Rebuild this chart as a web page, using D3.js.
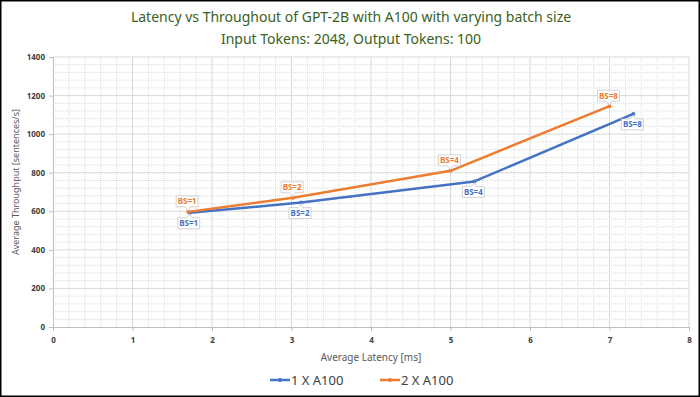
<!DOCTYPE html>
<html>
<head>
<meta charset="utf-8">
<script src="https://cdn.jsdelivr.net/npm/d3@7"></script>
<style>
  body { margin: 0; background: #fff; }
  svg { display: block; font-family: "Noto Sans", "DejaVu Sans", sans-serif; }
</style>
</head>
<body>
<div id="chart"></div>
<script>
// chart data
var titleLines = ["Latency vs Throughout of GPT-2B with A100 with varying batch size",
                  "Input Tokens: 2048, Output Tokens: 100"];
var seriesNames = ["1 X A100", "2 X A100"];
var batchLabels = ["BS=1", "BS=2", "BS=4", "BS=8"];
var latency1 = [1.72, 3.12, 5.3, 7.3];
var throughput1 = [592, 645, 755, 1105];
var latency2 = [1.7, 3.02, 5.0, 7.0];
var throughput2 = [597, 670, 810, 1145];
var xTicks = [0, 1, 2, 3, 4, 5, 6, 7, 8];
var yTicks = [0, 200, 400, 600, 800, 1000, 1200, 1400];

var width = 700, height = 397;
var colors = ["#4472c4", "#ed7d31"];

var svg = d3.select("#chart").append("svg")
  .attr("width", width)
  .attr("height", height);

// frame
svg.append("rect")
  .attr("x", 0.75).attr("y", 0.75)
  .attr("width", width - 1.5).attr("height", height - 1.5)
  .attr("fill", "#fff")
  .attr("stroke", "#000")
  .attr("stroke-width", 1.5);

var x = d3.scaleLinear().domain([0, 8]).range([53, 689]);
var y = d3.scaleLinear().domain([0, 1400]).range([327, 57]);

// minor grid (dotted)
var grid = svg.append("g");
grid.selectAll("line.minor-x")
  .data(d3.range(0, 8.001, 0.2).filter(function(d) { return Math.abs(d - Math.round(d)) > 1e-6; }))
  .enter().append("line")
    .attr("class", "minor-x")
    .attr("x1", function(d) { return x(d); })
    .attr("x2", function(d) { return x(d); })
    .attr("y1", y(0)).attr("y2", y(1400))
    .attr("stroke", "#dcdcdc")
    .attr("stroke-dasharray", "1,1");
grid.selectAll("line.minor-y")
  .data(d3.range(0, 1400.1, 40).filter(function(d) { return d % 200 !== 0; }))
  .enter().append("line")
    .attr("class", "minor-y")
    .attr("x1", x(0)).attr("x2", x(8))
    .attr("y1", function(d) { return y(d); })
    .attr("y2", function(d) { return y(d); })
    .attr("stroke", "#dcdcdc")
    .attr("stroke-dasharray", "1,1");

// major grid
grid.selectAll("line.major-x")
  .data(xTicks.slice(1))
  .enter().append("line")
    .attr("class", "major-x")
    .attr("x1", function(d) { return x(d); })
    .attr("x2", function(d) { return x(d); })
    .attr("y1", y(0)).attr("y2", y(1400))
    .attr("stroke", "#d9d9d9");
grid.selectAll("line.major-y")
  .data(yTicks.slice(1))
  .enter().append("line")
    .attr("class", "major-y")
    .attr("x1", x(0)).attr("x2", x(8))
    .attr("y1", function(d) { return y(d); })
    .attr("y2", function(d) { return y(d); })
    .attr("stroke", "#d9d9d9");

// axes
var xAxis = svg.append("g")
  .attr("transform", "translate(0," + y(0) + ")")
  .call(d3.axisBottom(x).tickValues(xTicks).tickSize(4).tickPadding(6));
var yAxis = svg.append("g")
  .attr("transform", "translate(" + x(0) + ",0)")
  .call(d3.axisLeft(y).tickValues(yTicks).tickFormat(d3.format("d")).tickSize(4).tickPadding(4));
[xAxis, yAxis].forEach(function(ax) {
  ax.select(".domain").attr("stroke", "#bfbfbf");
  ax.selectAll(".tick line").attr("stroke", "#bfbfbf");
  ax.selectAll(".tick text")
    .attr("fill", "#404040")
    .style("font-size", "8px")
    .style("font-weight", "bold")
    .style("font-family", "'Noto Sans', sans-serif");
});

// titles
svg.selectAll("text.chart-title")
  .data(titleLines)
  .enter().append("text")
    .attr("class", "chart-title")
    .attr("x", 351)
    .attr("y", function(d, i) { return 22 + i * 22; })
    .attr("text-anchor", "middle")
    .style("fill", "#3b6121")
    .style("font-size", "14px")
    .text(function(d) { return d; });

svg.append("text")
  .attr("x", 371).attr("y", 361)
  .attr("text-anchor", "middle")
  .style("fill", "#595959")
  .style("font-size", "10px")
  .text("Average Latency [ms]");

svg.append("text")
  .attr("transform", "translate(19," + 182 + ") rotate(-90)")
  .attr("text-anchor", "middle")
  .style("fill", "#595959")
  .style("font-size", "9px")
  .text("Average Throughput [sentences/s]");

// series
var series = [
  { name: seriesNames[0], color: colors[0], above: false,
    pts: latency1.map(function(d, i) { return { x: d, y: throughput1[i], label: batchLabels[i] }; }) },
  { name: seriesNames[1], color: colors[1], above: true,
    pts: latency2.map(function(d, i) { return { x: d, y: throughput2[i], label: batchLabels[i] }; }) }
];

var line = d3.line()
  .x(function(d) { return x(d.x); })
  .y(function(d) { return y(d.y); });

series.forEach(function(s) {
  svg.append("path")
    .attr("d", line(s.pts))
    .attr("fill", "none")
    .attr("stroke", s.color)
    .attr("stroke-width", 2.5)
    .attr("stroke-linejoin", "round");
  svg.selectAll(null)
    .data(s.pts)
    .enter().append("circle")
      .attr("cx", function(d) { return x(d.x); })
      .attr("cy", function(d) { return y(d.y); })
      .attr("r", 2)
      .attr("fill", s.color);
});

// data labels (callout boxes)
series.forEach(function(s) {
  var bw = 22, bh = 11, gap = 5;
  var g = svg.selectAll(null)
    .data(s.pts)
    .enter().append("g")
      .attr("transform", function(d) {
        var px = x(d.x), py = y(d.y);
        var bx = px - bw / 2 - 1;
        var by = s.above ? py - gap - bh : py + gap;
        return "translate(" + bx + "," + by + ")";
      });
  g.append("path")
    .attr("d", function() {
      // box with small pointer towards the point
      if (s.above) {
        return "M0,0H" + bw + "V" + bh + "H" + (bw / 2 + 3) + "L" + (bw / 2 + 1) + "," + (bh + 4) +
               "L" + (bw / 2 - 2) + "," + bh + "H0Z";
      }
      return "M0,0H" + (bw / 2 - 2) + "L" + (bw / 2 + 1) + ",-4L" + (bw / 2 + 3) + ",0H" + bw +
             "V" + bh + "H0Z";
    })
    .attr("fill", "#fff")
    .attr("stroke", "#c8c8c8")
    .attr("stroke-width", 0.8);
  g.append("text")
    .attr("x", bw / 2)
    .attr("y", bh / 2 + 3)
    .attr("text-anchor", "middle")
    .style("fill", s.color)
    .style("font-size", "8px")
    .style("font-weight", "bold")
    .text(function(d) { return d.label; });
});

// legend
var legend = svg.append("g");
var legendX = [270, 380];
series.forEach(function(s, i) {
  var lg = legend.append("g").attr("transform", "translate(" + legendX[i] + ",380)");
  lg.append("line")
    .attr("x1", 0).attr("x2", 20)
    .attr("y1", 0).attr("y2", 0)
    .attr("stroke", s.color)
    .attr("stroke-width", 2.5);
  lg.append("circle")
    .attr("cx", 10).attr("cy", 0).attr("r", 2)
    .attr("fill", s.color);
  lg.append("text")
    .attr("x", 21).attr("y", 5)
    .style("fill", "#404040")
    .style("font-size", "13px")
    .text(s.name);
});
</script>
</body>
</html>
